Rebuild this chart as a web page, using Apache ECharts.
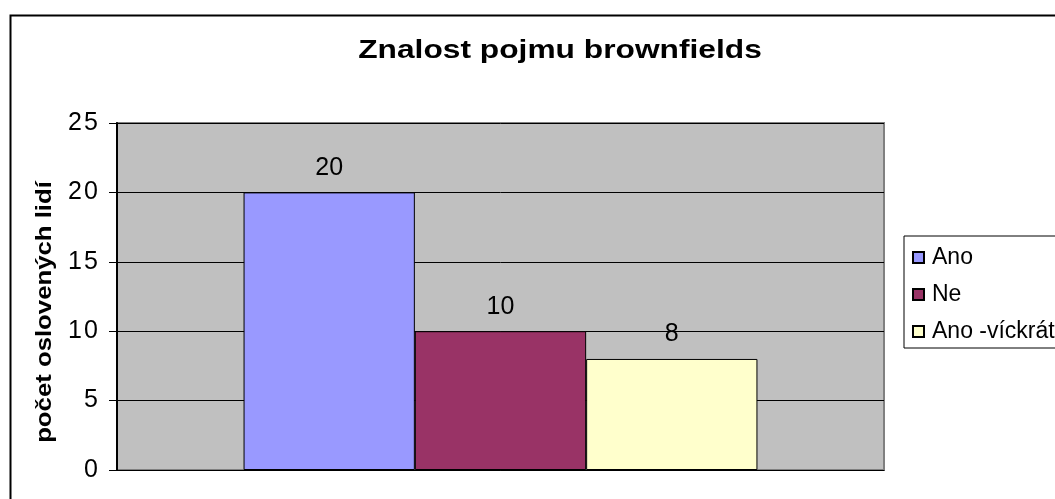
<!DOCTYPE html>
<html>
<head>
<meta charset="utf-8">
<script src="https://cdn.jsdelivr.net/npm/echarts@6/dist/echarts.min.js"></script>
<style>
  html, body { margin: 0; padding: 0; background: #fff; }
  #chart { width: 1055px; height: 499px; }
</style>
</head>
<body>
<div id="chart"></div>
<script>
// data
var seriesNames = ['Ano', 'Ne', 'Ano -víckrát'];
var seriesValues = [20, 10, 8];
var seriesColors = ['#9999FF', '#993366', '#FFFFCC'];
var yTicks = { min: 0, max: 25, interval: 5 };
var titleText = 'Znalost pojmu brownfields';
var yName = 'počet oslovených lidí';

var font = 'Arial, "Liberation Sans", sans-serif';

var chart = echarts.init(document.getElementById('chart'));

// the text in the picture is a bit wider than normal, so spread the digits out
function wideDigits(v) {
    return String(v).split('').map(function (c) { return '{d|' + c + '}'; }).join('');
}

// one series per answer, all in the same (only) category
var series = seriesNames.map(function (name, i) {
    return {
        name: name,
        type: 'bar',
        data: [seriesValues[i]],
        barGap: '0%',
        barCategoryGap: '33%',
        itemStyle: { color: seriesColors[i], borderColor: '#000', borderWidth: 1 },
        label: {
            show: true,
            position: 'top',
            distance: 12,
            color: '#000',
            fontFamily: font,
            fontSize: 25
        }
    };
});

chart.setOption({
    animation: false,
    backgroundColor: '#fff',
    graphic: [
        {
            // outer chart frame, runs off the right and bottom edge
            type: 'rect',
            left: 8,
            top: 13,
            shape: { width: 1200, height: 700 },
            style: { fill: 'none', stroke: '#000', lineWidth: 2 },
            z: -1
        },
        {
            type: 'text',
            x: 560,
            y: 51,
            scaleX: 1.22,
            style: {
                text: titleText,
                fontFamily: font,
                fontSize: 26,
                fontWeight: 'bold',
                fill: '#000',
                align: 'center',
                verticalAlign: 'middle'
            }
        },
        {
            type: 'text',
            x: 45,
            y: 312,
            rotation: Math.PI / 2,
            scaleX: 1.17,
            style: {
                text: yName,
                fontFamily: font,
                fontSize: 22,
                fontWeight: 'bold',
                fill: '#000',
                align: 'center',
                verticalAlign: 'middle'
            }
        }
    ],
    legend: {
        orient: 'vertical',
        left: 904,
        top: 236,
        padding: [10, 200, 5, 8],
        itemGap: 14,
        itemWidth: 11,
        itemHeight: 11,
        icon: 'rect',
        borderColor: '#000',
        borderWidth: 1,
        backgroundColor: '#fff',
        textStyle: { fontFamily: font, fontSize: 23, color: '#000', padding: [0, 0, 0, 3] },
        data: seriesNames
    },
    grid: {
        left: 117,
        top: 123,
        right: 171,
        bottom: 29,
        show: true,
        backgroundColor: '#C0C0C0',
        borderColor: '#808080',
        borderWidth: 2
    },
    xAxis: {
        type: 'category',
        data: [''],
        axisLine: { lineStyle: { color: '#000', width: 1 } },
        axisTick: { show: false },
        axisLabel: { show: false }
    },
    yAxis: {
        type: 'value',
        min: yTicks.min,
        max: yTicks.max,
        interval: yTicks.interval,
        axisLine: { show: true, lineStyle: { color: '#000', width: 2 } },
        axisTick: { show: true, length: 8, lineStyle: { color: '#000' } },
        axisLabel: {
            margin: 18,
            formatter: wideDigits,
            rich: {
                d: { width: 16, align: 'center', fontFamily: font, fontSize: 25, color: '#000' }
            }
        },
        splitLine: { lineStyle: { color: '#000', width: 1 } }
    },
    series: series
});
</script>
</body>
</html>
